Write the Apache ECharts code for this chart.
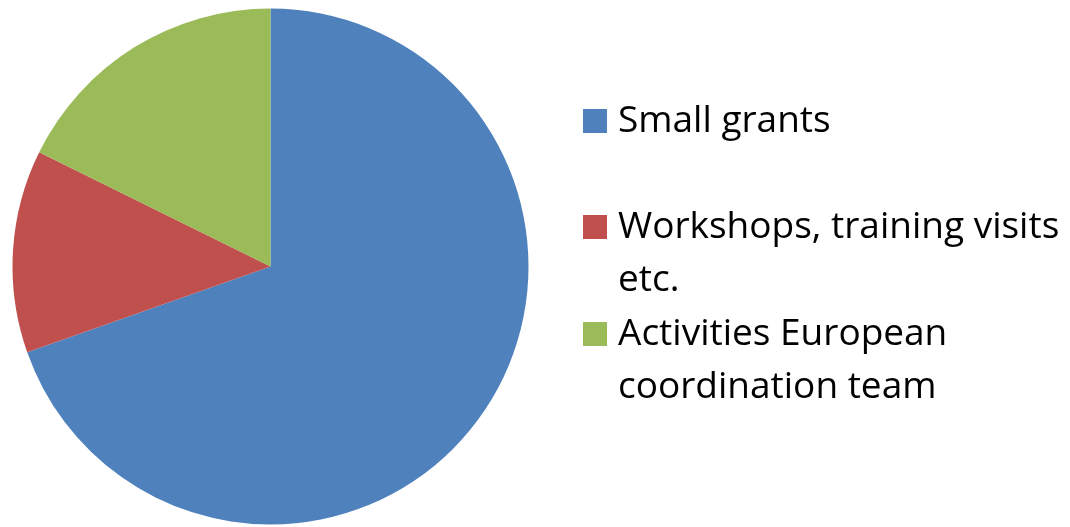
<!DOCTYPE html>
<html>
<head>
<meta charset="utf-8">
<script src="https://cdn.jsdelivr.net/npm/echarts@6/dist/echarts.min.js"></script>
<style>
  html, body { margin: 0; padding: 0; background: #fff; }
  #chart { width: 1070px; height: 527px; }
</style>
</head>
<body>
<div id="chart"></div>
<script>
const categories = ['Small grants', 'Workshops, training visits\netc.', 'Activities European\ncoordination team']
const values = [69.6, 12.7, 17.7]
const colors = ['#4F81BD', '#C0504D', '#9BBB59']

const chart = echarts.init(document.getElementById('chart'))

const fontSize = 37
const lineH = 53
// icon tops
const iconTops = [109, 215, 322]

// legend text is centred on the icon, so an empty line on top of a
// two-line label puts its first line level with the square
function makeLegend(i) {
  const lines = categories[i].split('\n')
  const shown = lines.length > 1 ? lines.length + 1 : lines.length
  const boxH = shown * lineH
  return {
    orient: 'vertical',
    left: 583,
    top: iconTops[i] - (boxH / 2 - 12),
    padding: 0,
    itemWidth: 24,
    itemHeight: 24,
    icon: 'rect',
    selectedMode: false,
    data: [categories[i]],
    formatter: () => {
      const txt = lines.map(l => '{t|' + l + '}').join('\n')
      return lines.length > 1 ? '{t|}\n' + txt : txt
    },
    textStyle: {
      fontFamily: 'Open Sans',
      fontSize: fontSize,
      lineHeight: lineH,
      color: '#000',
      rich: {
        t: {
          fontFamily: 'Open Sans',
          fontSize: fontSize,
          lineHeight: lineH,
          color: '#000',
          padding: [0, 0, 0, 6]
        }
      }
    }
  }
}

const option = {
  animation: false,
  color: colors,
  legend: [makeLegend(0), makeLegend(1), makeLegend(2)],
  series: [
    {
      type: 'pie',
      center: [270.5, 266.5],
      radius: 258,
      startAngle: 90,
      clockwise: true,
      label: { show: false },
      labelLine: { show: false },
      itemStyle: { borderWidth: 0 },
      emphasis: { disabled: true },
      data: categories.map((name, i) => ({ name: name, value: values[i] }))
    }
  ]
}

chart.setOption(option)
</script>
</body>
</html>
